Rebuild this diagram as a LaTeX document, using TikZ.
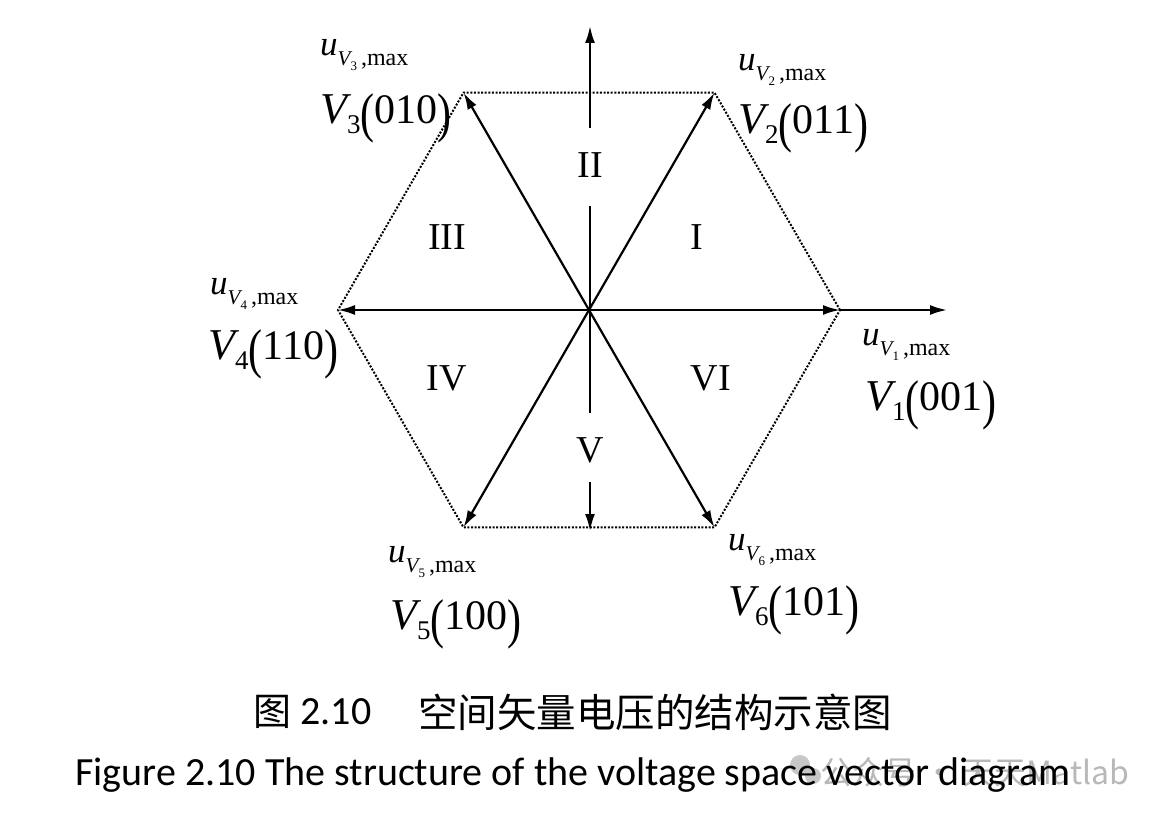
\documentclass[tikz,border=0pt]{standalone}
\usepackage{fontspec}
\setmainfont{Liberation Serif}
\newfontfamily\cjk{Noto Sans CJK SC}
\newfontfamily\calfont{Carlito}
\usetikzlibrary{arrows.meta}
\newcommand{\umaxlab}[1]{{\fontsize{35}{35}\selectfont\itshape u}\raisebox{-10pt}{{\fontsize{21}{21}\selectfont\itshape V}\raisebox{-5pt}{\fontsize{13}{13}\selectfont #1}{\fontsize{24}{24}\selectfont\,,max}}}
\newcommand{\vlab}[2]{{\fontsize{44}{44}\selectfont\itshape V}\raisebox{-10pt}{\fontsize{27}{27}\selectfont #1}{\fontsize{42}{42}\selectfont\raisebox{-0.17em}{\scalebox{1}[1.3]{(}}#2\raisebox{-0.17em}{\scalebox{1}[1.3]{)}}}}
\begin{document}
\begin{tikzpicture}[x=1pt,y=-1pt,
  vec/.style={line width=2.2pt,-{Latex[length=17pt,width=10pt]}},
  axisline/.style={line width=2.2pt},
  hexline/.style={line width=2pt,dash pattern=on 2pt off 1.6pt},
  lab/.style={inner sep=0pt,text=black},
  sector/.style={inner sep=0pt,font=\fontsize{38}{38}\selectfont},
  wm/.style={inner sep=0pt,text=black!28}]
\useasboundingbox (0,0) rectangle (1164,818);
% vertices
\coordinate (O) at (589,310);
\coordinate (P1) at (840,310);
\coordinate (P2) at (714.5,92.6);
\coordinate (P3) at (463.5,92.6);
\coordinate (P4) at (338,310);
\coordinate (P5) at (463.5,527.4);
\coordinate (P6) at (714.5,527.4);
\coordinate (Xend) at (947,310);
\coordinate (Ytop) at (590,26);
\coordinate (Ya) at (590,128);
\coordinate (Yb) at (590,206);
\coordinate (Yc) at (590,413);
\coordinate (Yd) at (590,482);
\coordinate (Ybot) at (590,531);
% hexagon
\draw[hexline] (P1) -- (P2) -- (P3) -- (P4) -- (P5) -- (P6) -- cycle;
% axes
\draw[vec] (P1) -- (Xend);
\draw[vec] (Ya) -- (Ytop);
\draw[axisline] (Yb) -- (Yc);
\draw[vec] (Yd) -- (Ybot);
% vectors
\foreach \p in {P1,P2,P3,P4,P5,P6} \draw[vec] (O) -- (\p);
% sector labels
\node[sector] (sI) at (697,237) {I};
\node[sector] (sII) at (590,165) {II};
\node[sector] (sIII) at (447,237) {III};
\node[sector] (sIV) at (447,378) {IV};
\node[sector] (sV) at (590,450) {V};
\node[sector] (sVI) at (711,378) {VI};
% vertex labels
\node[lab,anchor=west] (u3) at (320,55) {\umaxlab{3}};
\node[lab,anchor=west] (v3) at (320,118) {\vlab{3}{010}};
\node[lab,anchor=west] (u2) at (738,70) {\umaxlab{2}};
\node[lab,anchor=west] (v2) at (738,128) {\vlab{2}{011}};
\node[lab,anchor=west] (u4) at (210,294) {\umaxlab{4}};
\node[lab,anchor=west] (v4) at (208,354) {\vlab{4}{110}};
\node[lab,anchor=west] (u1) at (862,345) {\umaxlab{1}};
\node[lab,anchor=west] (v1) at (865,405) {\vlab{1}{001}};
\node[lab,anchor=west] (u5) at (388,562) {\umaxlab{5}};
\node[lab,anchor=west] (v5) at (390,624) {\vlab{5}{100}};
\node[lab,anchor=west] (u6) at (728,550) {\umaxlab{6}};
\node[lab,anchor=west] (v6) at (728,610) {\vlab{6}{101}};
% watermark
\fill[black!22] (800,765) circle (10);
\fill[black!22] (813,776) circle (8);
\node[wm,anchor=west] (wmk) at (820,772) {\fontsize{32}{32}\selectfont\cjk 公众号 · 天天Matlab};
% captions
\node[lab] (cfig) at (272,712) {\fontsize{38}{38}\selectfont\cjk 图};
\node[lab] (cnum) at (336,712) {\fontsize{40}{40}\selectfont\calfont 2.10};
\node[lab,anchor=west] (ctext) at (418,712) {\fontsize{39.5}{40}\selectfont\cjk 空间矢量电压的结构示意图};
\node[lab] (etext) at (573,775) {\fontsize{40}{40}\selectfont\calfont Figure 2.10 The structure of the voltage space vector diagram};
\end{tikzpicture}
\end{document}
